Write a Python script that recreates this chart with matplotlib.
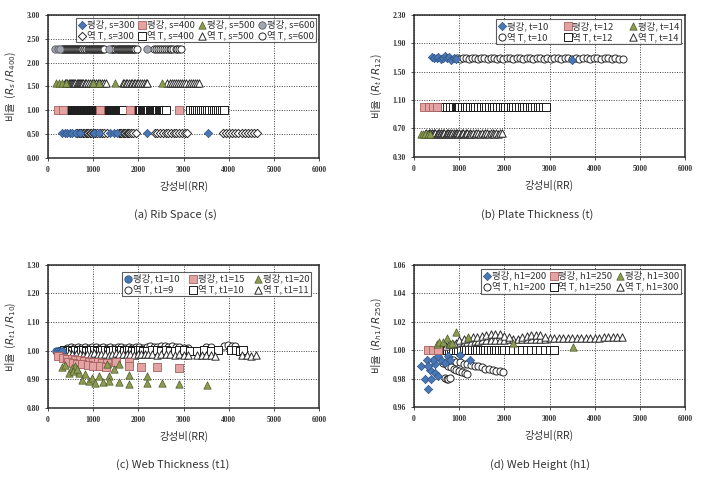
import numpy as np
import matplotlib
matplotlib.use("Agg")
import matplotlib.pyplot as plt

plt.rcParams['font.family'] = ['Noto Sans CJK KR', 'DejaVu Sans']
plt.rcParams['axes.unicode_minus'] = False

# ---------------- (a) Rib Space ----------------
a_y = [0.53, 1.00, 1.58, 2.28]   # rows for s=300, 400, 500, 600
a_ps300_x = [300, 380, 430, 480, 540, 610, 700, 1010, 1120, 1380, 1460, 1530, 2200, 3530]
a_tp300_x = [620, 650, 680, 710, 740, 770, 800, 830, 860, 890, 920, 950, 985, 1020, 1050, 1090, 1140,
             1190, 1245, 1300,
             1560, 1590, 1620, 1650, 1680, 1710, 1740, 1770, 1800, 1845, 1890, 1940,
             2360, 2420, 2475, 2540, 2600, 2655, 2720, 2780, 2840, 2900, 2965, 3020, 3080,
             3860, 3930, 4000, 4075, 4140, 4210, 4285, 4350, 4420, 4490, 4560, 4630]
a_ps400_x = [220, 340, 1160, 1810, 2890]
a_tp400_x = [480, 495, 510, 525, 540, 555, 570, 590, 605, 620, 640, 655, 670, 690, 705, 720, 740, 755,
             770, 790, 805, 820, 840, 855, 870, 890, 905, 920, 940, 955, 970, 990, 1005, 1020, 1040,
             1055, 1070, 1090, 1105, 1120, 1140, 1200, 1215, 1230, 1250, 1265, 1280, 1300, 1315,
             1330, 1350, 1365, 1380, 1400, 1415, 1430, 1450, 1465, 1480, 1500, 1515, 1530, 1550,
             1565, 1580, 1600, 1615, 1630, 1650,
             1920, 1945, 1970, 1995, 2020, 2045, 2070, 2095, 2120, 2145, 2170, 2195, 2220, 2245,
             2270, 2295, 2320, 2345, 2370, 2395, 2420, 2445, 2470, 2495, 2520, 2545, 2570, 2600,
             3150, 3200, 3245, 3290, 3340, 3385, 3430, 3480, 3525, 3570, 3620, 3665, 3710, 3760,
             3805, 3850, 3890]
a_ps500_x = [170, 240, 310, 400, 1000, 1120, 1490, 2510]
a_tp500_x = [380, 405, 430, 455, 480, 505, 530, 555, 580, 605, 630, 655, 680, 705, 730, 755, 780,
             815, 850, 890, 930, 975, 1020, 1065, 1110, 1155, 1200, 1245, 1290,
             1650, 1685, 1720, 1755, 1790, 1825, 1860, 1895, 1930, 1965, 2000, 2040, 2080, 2120,
             2160, 2200,
             2640, 2690, 2735, 2780, 2830, 2875, 2920, 2970, 3015, 3060, 3110, 3155, 3200, 3250,
             3295, 3340]
a_ps600_x = [150, 210, 270, 1340, 2190]
a_tp600_x = [300, 325, 345, 370, 390, 415, 440, 460, 485, 505, 530, 555, 575, 600, 620, 645, 670,
             690, 715, 735, 760, 785, 805, 830, 850, 875, 900, 920, 945, 965, 990, 1015, 1035, 1060,
             1080, 1105, 1130, 1150, 1175, 1195, 1220, 1245,
             1400, 1425, 1445, 1470, 1490, 1515, 1540, 1560, 1585, 1605, 1630, 1655, 1675, 1700,
             1720, 1745, 1770, 1790, 1815, 1835, 1860, 1885, 1905, 1930, 1960,
             2340, 2385, 2430, 2470, 2515, 2560, 2600, 2645, 2690, 2730, 2775, 2820, 2860, 2905, 2950]

# ---------------- (b) Plate Thickness ----------------
b_ps10_x = [400, 450, 500, 540, 590, 640, 690, 740, 780, 830, 880, 920, 3500]
b_ps10_y = [1.71, 1.70, 1.69, 1.71, 1.68, 1.70, 1.72, 1.69, 1.71, 1.67, 1.69, 1.68, 1.67]
b_tp10_x = [960, 1020, 1080, 1150, 1220, 1290, 1360, 1420, 1490, 1560, 1630, 1700, 1770, 1840, 1910,
            1980, 2050, 2120, 2200, 2280, 2350, 2420, 2500, 2570, 2640, 2720, 2800, 2870, 2950, 3030,
            3100, 3180, 3260, 3340, 3420, 3500, 3580, 3660, 3740, 3820, 3900, 3980, 4060, 4140,
            4220, 4300, 4380, 4460, 4540, 4620]
b_tp10_y = [1.69, 1.68, 1.70, 1.69, 1.68, 1.70, 1.69, 1.68, 1.69, 1.70, 1.68, 1.69, 1.70, 1.68, 1.69,
            1.68, 1.70, 1.69, 1.68, 1.69, 1.70, 1.68, 1.69, 1.70, 1.68, 1.69, 1.70, 1.68, 1.69, 1.68,
            1.70, 1.69, 1.68, 1.69, 1.70, 1.68, 1.69, 1.68, 1.70, 1.69, 1.68, 1.70, 1.69, 1.68,
            1.69, 1.70, 1.68, 1.69, 1.68, 1.68]
b_ps12_x = [230, 330, 430, 520]
b_tp12_x = [560, 620, 680, 740, 800, 860, 920, 950, 975, 1000, 1060, 1120, 1180, 1240, 1300, 1340,
            1360, 1420, 1480, 1540, 1600, 1660, 1720, 1780, 1840, 1900, 1960, 2020, 2080, 2140,
            2200, 2260, 2320, 2380, 2440, 2500, 2560, 2620, 2680, 2740, 2800, 2860, 2920]
b_y12 = 1.00
b_ps14_x = [150, 200, 250, 300, 350]
b_tp14_x = [250, 275, 300, 325, 350, 375, 400, 425, 450, 475, 500, 525, 550, 575, 600, 625, 650,
            675, 700, 725, 750, 775, 800, 825, 850, 875, 900, 925, 950, 975, 1000, 1030, 1060, 1090,
            1120, 1150, 1180, 1210, 1240, 1270, 1300, 1340, 1380, 1420, 1460, 1500, 1540, 1580,
            1620, 1660, 1700, 1740, 1780, 1820, 1860, 1900, 1940]
b_tp14_y = [0.62, 0.63, 0.62, 0.63, 0.64, 0.62, 0.63, 0.62, 0.64, 0.63, 0.62, 0.63, 0.64, 0.62, 0.63,
            0.62, 0.64, 0.63, 0.62, 0.63, 0.64, 0.62, 0.63, 0.62, 0.64, 0.63, 0.62, 0.63, 0.64,
            0.62, 0.63, 0.62, 0.64, 0.63, 0.62, 0.63, 0.64, 0.62, 0.63, 0.62, 0.63, 0.62, 0.63,
            0.64, 0.62, 0.63, 0.62, 0.64, 0.63, 0.62, 0.63, 0.64, 0.62, 0.63, 0.62, 0.63, 0.63]
b_y14 = 0.62

# ---------------- (c) Web Thickness ----------------
c_ps10_x = [180, 220, 260, 300]
c_ps10_y = [1.00, 1.00, 1.00, 1.00]
c_ps15_x = [230, 330, 420, 520, 600, 700, 800, 900, 1000, 1100, 1200, 1300,
            450, 560, 650, 760, 880, 1000, 1150, 1280,
            1500, 1800, 1800, 2050, 2400, 2900]
c_ps15_y = [0.980, 0.975, 0.970, 0.972, 0.968, 0.966, 0.963, 0.962, 0.961, 0.960, 0.958, 0.957,
            0.962, 0.958, 0.955, 0.952, 0.950, 0.948, 0.946, 0.944,
            0.960, 0.960, 0.945, 0.944, 0.943, 0.941]
c_ps20_x = [310, 380, 455, 520, 600, 675, 750, 825, 900, 970, 1045, 1120, 1215, 1340, 1340, 1300,
            1450, 1560, 1560, 1800, 1800, 2190, 2190, 2520, 2900, 3510, 560, 640]
c_ps20_y = [0.943, 0.951, 0.922, 0.940, 0.947, 0.922, 0.897, 0.917, 0.894, 0.905, 0.887, 0.913,
            0.890, 0.910, 0.895, 0.953, 0.935, 0.953, 0.890, 0.916, 0.885, 0.913, 0.887, 0.887,
            0.885, 0.882, 0.928, 0.935]
c_tp9_x = [420, 500, 580, 660, 740, 820, 900, 980, 1060, 1140, 1220, 1300, 1380, 1460, 1540, 1620,
           1700, 1780, 1860, 1940, 2020, 2100, 2180, 2260, 2340, 2420, 2500, 2580, 2660, 2740,
           2820, 2900, 3000, 3100, 3500, 3600, 3900, 3980, 4060, 4140]
c_tp9_y = [1.008, 1.012, 1.010, 1.014, 1.011, 1.013, 1.010, 1.014, 1.012, 1.010, 1.013, 1.011,
           1.014, 1.010, 1.012, 1.014, 1.011, 1.013, 1.010, 1.014, 1.012, 1.010, 1.013, 1.015,
           1.012, 1.014, 1.016, 1.015, 1.013, 1.016, 1.014, 1.012, 1.011, 1.010, 1.014, 1.012,
           1.018, 1.019, 1.018, 1.017]
c_tp10_x = [300, 360, 420, 480, 540, 600, 660, 720, 780, 840, 900, 960, 1020, 1080, 1140, 1200,
            1260, 1320, 1380, 1440, 1500, 1560, 1620, 1680, 1740, 1800, 1860, 1920, 1980, 2040,
            2100, 2200, 2300, 2400, 2500, 2600, 2700, 2800, 2900, 3000, 3150, 3300, 3450, 3600,
            3750, 4050, 4150, 4250, 4320]
c_tp10_y = [1.000, 1.002, 0.999, 1.001, 1.000, 1.003, 0.999, 1.001, 1.002, 1.000, 0.998, 1.001,
            1.003, 1.000, 0.999, 1.002, 1.001, 0.999, 1.000, 1.003, 1.001, 0.999, 1.002, 1.000,
            1.001, 1.003, 0.999, 1.000, 1.002, 1.001, 1.000, 0.999, 1.001, 1.002, 1.000, 1.001,
            0.999, 1.000, 1.002, 1.001, 1.000, 1.000, 1.001, 1.000, 1.002, 1.003, 1.002, 1.000, 1.001]
c_tp11_x = [300, 380, 460, 540, 620, 700, 780, 860, 940, 1020, 1100, 1180, 1260, 1340, 1420, 1500,
            1580, 1660, 1740, 1820, 1900, 1980, 2060, 2140, 2220, 2300, 2400, 2500, 2600, 2700,
            2800, 2900, 3000, 3100, 3300, 3400, 3500, 3600, 3700, 4300, 4400, 4500, 4600]
c_tp11_y = [0.990, 0.988, 0.991, 0.987, 0.990, 0.989, 0.986, 0.990, 0.988, 0.991, 0.987, 0.989,
            0.990, 0.986, 0.989, 0.991, 0.988, 0.987, 0.990, 0.989, 0.986, 0.988, 0.990, 0.987,
            0.989, 0.988, 0.986, 0.989, 0.987, 0.988, 0.986, 0.987, 0.985, 0.986, 0.985, 0.984,
            0.985, 0.984, 0.983, 0.985, 0.984, 0.983, 0.984]

# ---------------- (d) Web Height ----------------
d_ps200_x = [160, 240, 310, 380, 350, 460, 420, 600, 530, 750, 1010, 1230, 460, 530, 280, 310, 680, 790]
d_ps200_y = [0.9885, 0.9800, 0.9730, 0.9800, 0.9860, 0.9900, 0.9933, 0.9933, 0.9956, 0.9956,
             0.9967, 0.9933, 0.9840, 0.9815, 0.9933, 0.9885, 0.9910, 0.9933]
d_ps250_x = [300, 420, 530]
d_ps250_y = [1.000, 1.000, 1.000]
d_ps300_x = [500, 560, 640, 720, 790, 850, 920, 1200, 2200, 3520]
d_ps300_y = [1.0045, 1.0060, 1.0055, 1.0085, 1.0040, 1.0050, 1.0130, 1.0095, 1.0050, 1.0025]
d_tp200_x = [780, 860, 940, 1020, 1100, 1180, 1260, 1340, 1420, 1500, 1580, 1660, 1740, 1820, 1900,
             1980, 640, 700, 760, 820, 880, 940, 1000, 1060, 1120, 1180, 680, 720, 760, 800]
d_tp200_y = [0.9935, 0.9930, 0.9920, 0.9915, 0.9905, 0.9900, 0.9895, 0.9890, 0.9885, 0.9880,
             0.9870, 0.9865, 0.9860, 0.9855, 0.9850, 0.9848, 0.9910, 0.9900, 0.9890, 0.9880,
             0.9870, 0.9860, 0.9850, 0.9845, 0.9840, 0.9835, 0.9805, 0.9800, 0.9800, 0.9805]
d_tp250_x = [620, 660, 700, 740, 780, 820, 860, 920, 980, 1040, 1100, 1160, 1220, 1280, 1340, 1400,
             1460, 1520, 1580, 1640, 1700, 1760, 1820, 1880, 1940, 2000, 2100, 2200, 2300, 2400,
             2500, 2600, 2700, 2800, 2900, 3000, 3100]
d_tp300_x = [700, 780, 860, 940, 1020, 1100, 1180, 1260, 1340, 1420, 1500, 1600, 1700, 1800, 1900,
             2000, 2100, 2200, 2300, 2400, 2500, 2600, 2700, 2800, 2900, 3000, 3100, 3200, 3300,
             3400, 3500, 3600, 3700, 3800, 3900, 4000, 4100, 4200, 4300, 4400, 4500, 4600,
             1000, 1100, 1200, 1300, 1400, 1500, 1600, 1700, 1800, 1900, 2000, 2100,
             2400, 2500, 2600, 2700, 2800, 2900]
d_tp300_y = [1.0030, 1.0040, 1.0045, 1.0050, 1.0055, 1.0055, 1.0060, 1.0060, 1.0065, 1.0065,
             1.0068, 1.0070, 1.0070, 1.0072, 1.0072, 1.0074, 1.0075, 1.0076, 1.0076, 1.0078,
             1.0078, 1.0079, 1.0080, 1.0080, 1.0081, 1.0082, 1.0082, 1.0083, 1.0084, 1.0084,
             1.0085, 1.0085, 1.0086, 1.0087, 1.0087, 1.0088, 1.0088, 1.0089, 1.0090, 1.0090,
             1.0091, 1.0091,
             1.0070, 1.0080, 1.0085, 1.0090, 1.0095, 1.0100, 1.0105, 1.0110, 1.0115, 1.0110,
             1.0100, 1.0090, 1.0095, 1.0100, 1.0105, 1.0108, 1.0105, 1.0095]

# marker styles
BLUE = dict(marker='D', s=18, facecolor='#4a77b4', edgecolor='#2f5687', linewidths=0.5)
PINK = dict(marker='s', s=26, facecolor='#e3a3a3', edgecolor='#a86060', linewidths=0.6)
OLIVE = dict(marker='^', s=28, facecolor='#8c9c52', edgecolor='#4f5a28', linewidths=0.5)
GREY = dict(marker='o', s=28, facecolor='#a4a6ae', edgecolor='#5c5e66', linewidths=0.6)
W_D = dict(marker='D', s=18, facecolor='white', edgecolor='#2a2a2a', linewidths=0.7)
W_S = dict(marker='s', s=26, facecolor='white', edgecolor='#1a1a1a', linewidths=0.7)
W_T = dict(marker='^', s=28, facecolor='white', edgecolor='#2a2a2a', linewidths=0.7)
W_O = dict(marker='o', s=26, facecolor='white', edgecolor='#2a2a2a', linewidths=0.7)

fig = plt.figure(figsize=(7.01, 4.84), dpi=100)
ax_a = fig.add_axes([0.0685, 0.674, 0.387, 0.295])
ax_b = fig.add_axes([0.5906, 0.676, 0.3866, 0.293])
ax_c = fig.add_axes([0.0685, 0.157, 0.387, 0.296])
ax_d = fig.add_axes([0.5906, 0.159, 0.3866, 0.294])


def style(ax, ylo, yhi, yticks, ylabel):
    ax.set_xlim(0, 6000)
    ax.set_ylim(ylo, yhi)
    ax.set_xticks([0, 1000, 2000, 3000, 4000, 5000, 6000])
    ax.set_yticks(yticks)
    ax.set_yticklabels([f"{v:.2f}" for v in yticks])
    for lab in ax.get_xticklabels() + ax.get_yticklabels():
        lab.set_fontfamily('Liberation Serif')
        lab.set_fontweight('bold')
        lab.set_fontsize(5.5)
        lab.set_color('#333333')
    ax.tick_params(length=2, width=0.6, pad=4, colors='#333333')
    ax.grid(True, linestyle=(0, (1, 1.5)), color='#444444', linewidth=0.7)
    ax.set_axisbelow(True)
    for sp in ax.spines.values():
        sp.set_color('#2a2a2a')
        sp.set_linewidth(1.1)
    ax.set_xlabel('강성비(RR)', fontsize=7.5, color='#333333', labelpad=5)
    ax.set_ylabel(ylabel, fontsize=7.5, color='#333333', labelpad=6)


def add_legend(ax, ncol, bbox, colsp):
    leg = ax.legend(ncol=ncol, loc='upper right', bbox_to_anchor=bbox, fontsize=6.8,
                    frameon=True, fancybox=False, edgecolor='#333333', borderpad=0.2,
                    handletextpad=0.05, columnspacing=colsp, handlelength=0.9, labelspacing=0.15,
                    borderaxespad=0.3)
    leg.get_frame().set_linewidth(0.8)
    for t in leg.get_texts():
        t.set_color('#333333')


# (a)
ax = ax_a
ax.scatter(a_ps300_x, [a_y[0]] * len(a_ps300_x), label='평강, s=300', zorder=3, **BLUE)
ax.scatter(a_tp300_x, [a_y[0]] * len(a_tp300_x), label='역 T, s=300', zorder=2, **W_D)
ax.scatter(a_ps400_x, [a_y[1]] * len(a_ps400_x), label='평강, s=400', zorder=3, **PINK)
ax.scatter(a_tp400_x, [a_y[1]] * len(a_tp400_x), label='역 T, s=400', zorder=2, **W_S)
ax.scatter(a_ps500_x, [a_y[2]] * len(a_ps500_x), label='평강, s=500', zorder=3, **OLIVE)
ax.scatter(a_tp500_x, [a_y[2]] * len(a_tp500_x), label='역 T, s=500', zorder=2, **W_T)
ax.scatter(a_ps600_x, [a_y[3]] * len(a_ps600_x), label='평강, s=600', zorder=3, **GREY)
ax.scatter(a_tp600_x, [a_y[3]] * len(a_tp600_x), label='역 T, s=600', zorder=2, **W_O)
style(ax, 0, 3.0, [0, 0.5, 1.0, 1.5, 2.0, 2.5, 3.0], '비율  ($R_s\\,/\\,R_{400}$)')
add_legend(ax, 4, (1.0, 1.0), 0.35)

# (b)
ax = ax_b
ax.scatter(b_ps10_x, b_ps10_y, label='평강, t=10', zorder=3, **BLUE)
ax.scatter(b_tp10_x, b_tp10_y, label='역 T, t=10', zorder=2, **W_O)
ax.scatter(b_ps12_x, [b_y12] * len(b_ps12_x), label='평강, t=12', zorder=3, **PINK)
ax.scatter(b_tp12_x, [b_y12] * len(b_tp12_x), label='역 T, t=12', zorder=2, **W_S)
ax.scatter(b_ps14_x, [b_y14] * len(b_ps14_x), label='평강, t=14', zorder=3, **OLIVE)
ax.scatter(b_tp14_x, b_tp14_y, label='역 T, t=14', zorder=2, **W_T)
style(ax, 0.3, 2.3, [0.3, 0.7, 1.1, 1.5, 1.9, 2.3], '비율  ($R_t\\,/\\,R_{12}$)')
add_legend(ax, 3, (0.995, 0.99), 1.6)

# (c)
ax = ax_c
ax.scatter(c_ps10_x, c_ps10_y, label='평강, t1=10', zorder=3,
           **dict(GREY, facecolor='#4a77b4', edgecolor='#2f5687'))
ax.scatter(c_tp9_x, c_tp9_y, label='역 T, t1=9', zorder=2, **W_O)
ax.scatter(c_ps15_x, c_ps15_y, label='평강, t1=15', zorder=3, **PINK)
ax.scatter(c_tp10_x, c_tp10_y, label='역 T, t1=10', zorder=2, **W_S)
ax.scatter(c_ps20_x, c_ps20_y, label='평강, t1=20', zorder=3, **OLIVE)
ax.scatter(c_tp11_x, c_tp11_y, label='역 T, t1=11', zorder=2, **W_T)
style(ax, 0.8, 1.3, [0.8, 0.9, 1.0, 1.1, 1.2, 1.3], '비율  ($R_{t1}\\,/\\,R_{10}$)')
add_legend(ax, 3, (0.98, 0.97), 1.0)

# (d)
ax = ax_d
ax.scatter(d_ps200_x, d_ps200_y, label='평강, h1=200', zorder=3, **BLUE)
ax.scatter(d_tp200_x, d_tp200_y, label='역 T, h1=200', zorder=2, **W_O)
ax.scatter(d_ps250_x, d_ps250_y, label='평강, h1=250', zorder=3, **PINK)
ax.scatter(d_tp250_x, [1.0] * len(d_tp250_x), label='역 T, h1=250', zorder=2, **W_S)
ax.scatter(d_ps300_x, d_ps300_y, label='평강, h1=300', zorder=3, **OLIVE)
ax.scatter(d_tp300_x, d_tp300_y, label='역 T, h1=300', zorder=2, **W_T)
style(ax, 0.96, 1.06, [0.96, 0.98, 1.00, 1.02, 1.04, 1.06], '비율  ($R_{h1}\\,/\\,R_{250}$)')
add_legend(ax, 3, (0.995, 0.99), 0.35)

# captions
fig.text(0.25, 1 - 215 / 484, '(a) Rib Space (s)', ha='center', va='center', fontsize=8, color='#333333')
fig.text(0.766, 1 - 215 / 484, '(b) Plate Thickness (t)', ha='center', va='center', fontsize=8, color='#333333')
fig.text(0.246, 1 - 465 / 484, '(c) Web Thickness (t1)', ha='center', va='center', fontsize=8, color='#333333')
fig.text(0.77, 1 - 465 / 484, '(d) Web Height (h1)', ha='center', va='center', fontsize=8, color='#333333')

fig.savefig('out.png', dpi=100)
